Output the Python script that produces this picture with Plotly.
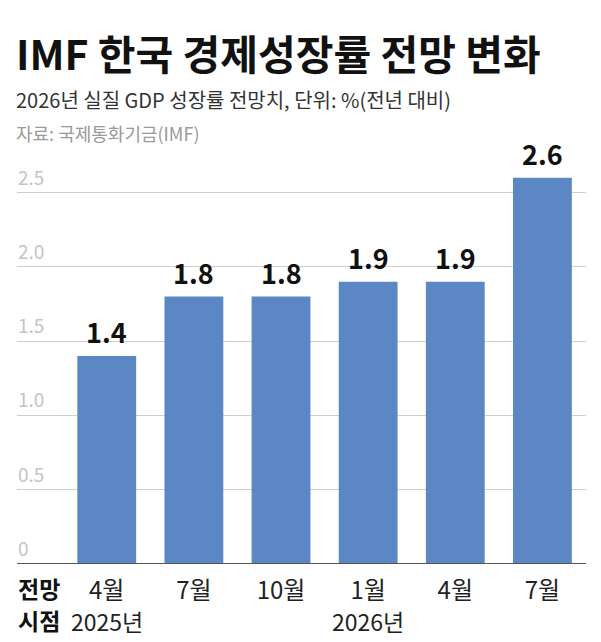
import plotly.graph_objects as go

months = ["4월", "7월", "10월", "1월", "4월", "7월"]
years = ["2025년", "", "", "2026년", "", ""]
values = [1.4, 1.8, 1.8, 1.9, 1.9, 2.6]
ytick_vals = [0, 0.5, 1.0, 1.5, 2.0, 2.5]
ytick_text = ["0", "0.5", "1.0", "1.5", "2.0", "2.5"]

title = "IMF 한국 경제성장률 전망 변화"
subtitle = "2026년 실질 GDP 성장률 전망치, 단위: %(전년 대비)"
source = "자료: 국제통화기금(IMF)"

FONT = "Noto Sans CJK KR"
xs = list(range(len(values)))

W = 601; H = 642; L = 17; R = 15; T = 148; B = 78
ph = H - T - B
def py(pix):
    return (H - B - pix) / ph

fig = go.Figure()
fig.add_trace(go.Bar(
    x=xs, y=values,
    marker=dict(color="#5b87c5", line=dict(width=0)),
    width=0.675,
    hoverinfo="skip",
))

# value labels
for x, v in zip(xs, values):
    fig.add_annotation(x=x, y=v, xref="x", yref="y", text=f"{v:.1f}", showarrow=False,
                       yanchor="bottom", yshift=3,
                       font=dict(family=FONT, size=27, color="#111111", weight="bold"))
# y tick labels (above gridlines)
for v, t in zip(ytick_vals, ytick_text):
    fig.add_annotation(x=0, y=v, xref="paper", yref="y", text=t, showarrow=False,
                       xanchor="left", yanchor="bottom", yshift=1, xshift=-1,
                       font=dict(family=FONT, size=19, color="#c4c4c4"))
# year labels
for x, yr in zip(xs, years):
    if yr:
        fig.add_annotation(x=x, y=py(621), xref="x", yref="paper", text=yr, showarrow=False,
                           xanchor="center", yanchor="middle",
                           font=dict(family=FONT, size=23, color="#222222"))
# 전망 시점
for txt, ypix in [("전망", 588), ("시점", 620)]:
    fig.add_annotation(x=0, y=py(ypix), xref="paper", yref="paper", text=txt, showarrow=False,
                       xanchor="left", yanchor="middle", xshift=-1,
                       font=dict(family=FONT, size=23, color="#111111", weight="bold"))
# title, subtitle, source
for txt, ypix, size, color, w in [(title, 52, 41, "#111111", "bold"),
                                  (subtitle, 100, 20, "#333333", "normal"),
                                  (source, 133, 18, "#9a9a9a", "normal")]:
    fig.add_annotation(x=-3 / (W - L - R), y=py(ypix), xref="paper", yref="paper", text=txt,
                       showarrow=False, xanchor="left", yanchor="middle",
                       font=dict(family=FONT, size=size, color=color, weight=w))

# axis baseline
fig.add_shape(type="line", xref="paper", yref="y", x0=0, x1=1, y0=0, y1=0,
              line=dict(color="#555555", width=2))

fig.update_layout(
    width=W, height=H,
    margin=dict(l=L, r=R, t=T, b=B),
    paper_bgcolor="white", plot_bgcolor="white",
    showlegend=False,
    xaxis=dict(range=[-1.03, 5.5], tickmode="array", tickvals=xs, ticktext=months,
               showgrid=False, zeroline=False, showline=False,
               ticks="", ticklen=0, ticklabelstandoff=10,
               tickfont=dict(family=FONT, size=24, color="#222222")),
    yaxis=dict(range=[0, 2.8], tickmode="array", tickvals=ytick_vals, showticklabels=False,
               showgrid=True, gridcolor="#cfcfcf", gridwidth=1, zeroline=False,
               showline=False),
)

fig.write_html("out.html")
